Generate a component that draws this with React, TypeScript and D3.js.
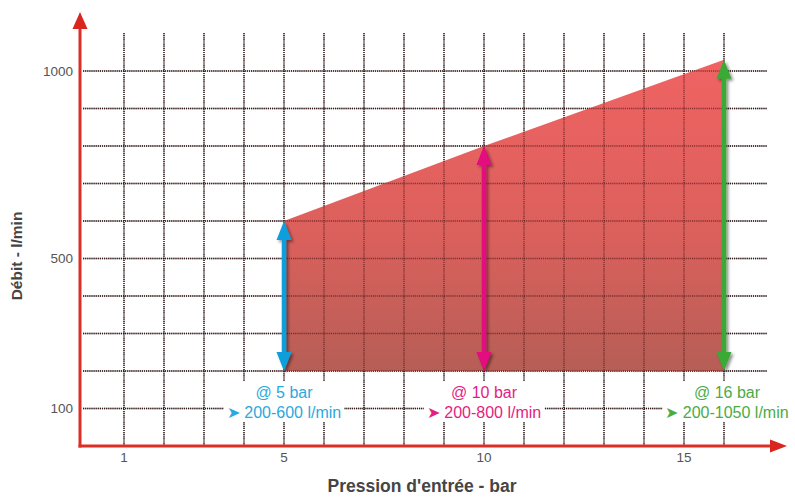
import React from "react";
import * as d3 from "d3";

const pressures = [5, 10, 16];
const flowMin = [200, 200, 200];
const flowMax = [600, 800, 1030];
const labelTop = ["@ 5 bar", "@ 10 bar", "@ 16 bar"];
const labelRange = ["200-600 l/min", "200-800 l/min", "200-1050 l/min"];
const arrowColors = ["#0d9edb", "#e4077f", "#3aa935"];
const textColors = ["#2ba8e0", "#e51c83", "#4cab43"];
const xTickValues = [1, 5, 10, 15];
const yTickValues = [100, 500, 1000];
const xGridValues = d3.range(1, 17);
const yGridValues = d3.range(100, 1001, 100);

const W = 795;
const H = 497;

function measure(text: string, font: string): number {
  if (typeof document === "undefined") return text.length * 8;
  const c = document.createElement("canvas").getContext("2d");
  if (!c) return text.length * 8;
  c.font = font;
  return c.measureText(text).width;
}

export default function App() {
  const x = d3.scaleLinear().domain([0, 16]).range([84, 724]);
  const y = d3.scaleLinear().domain([100, 1000]).range([408.5, 71]);

  const axisX = 80;
  const axisY = 446;
  const gridTop = 33;
  const gridRight = 767;

  const areaPts: [number, number][] = [
    [x(pressures[0]), y(flowMin[0])],
    ...pressures.map((p, i) => [x(p), y(flowMax[i])] as [number, number]),
    [x(pressures[pressures.length - 1]), y(flowMin[flowMin.length - 1])],
  ];
  const areaPath = d3.line()(areaPts) + "Z";

  const gridLines = (color: string, opacity: number) => (
    <g stroke={color} strokeOpacity={opacity} strokeWidth={1.4} strokeDasharray="1.2 0.9">
      {xGridValues.map((v) => (
        <line key={"vx" + v} x1={x(v)} x2={x(v)} y1={gridTop} y2={axisY - 1} />
      ))}
      {yGridValues.map((v) => (
        <line key={"hy" + v} x1={axisX + 3} x2={gridRight} y1={y(v)} y2={y(v)} />
      ))}
    </g>
  );

  const fontFam = "'Liberation Sans', Arial, Helvetica, sans-serif";
  const lblSize = 16;
  const lblFont = `${lblSize}px ${fontFam}`;

  const headW = 15;
  const headL = 19;
  const shaftW = 4.5;

  return (
    <svg
      width={W}
      height={H}
      style={{ position: "absolute", left: 0, top: 0, background: "#fff" }}
      fontFamily={fontFam}
    >
      <defs>
        <linearGradient id="areaGrad" x1="0" y1="0" x2="0" y2="1">
          <stop offset="0%" stopColor="#ef6363" />
          <stop offset="55%" stopColor="#dc605c" />
          <stop offset="100%" stopColor="#b65e56" />
        </linearGradient>
        <filter id="shadow" x="-50%" y="-10%" width="200%" height="120%">
          <feDropShadow dx="2" dy="2" stdDeviation="1.5" floodColor="#000" floodOpacity="0.45" />
        </filter>
      </defs>

      {gridLines("#111", 0.9)}

      <path d={areaPath} fill="url(#areaGrad)" />

      {gridLines("#3a0a0a", 0.55)}

      {/* axes */}
      <line x1={axisX} x2={axisX} y1={axisY + 1.5} y2={26} stroke="#dd2e26" strokeWidth={3} />
      <path d={`M${axisX},12 L${axisX + 7.5},29 L${axisX - 7.5},29 Z`} fill="#d9261f" />
      <line x1={axisX - 1.5} x2={774} y1={axisY} y2={axisY} stroke="#dd2e26" strokeWidth={3} />
      <path d={`M787,${axisY} L770,${axisY - 6.5} L770,${axisY + 6.5} Z`} fill="#d9261f" />

      {/* arrows */}
      {pressures.map((p, i) => {
        const cx = x(p);
        const yb = y(flowMin[i]);
        const yt = y(flowMax[i]);
        return (
          <g key={"arr" + i} filter="url(#shadow)" fill={arrowColors[i]}>
            <rect x={cx - shaftW / 2} y={yt + headL - 1} width={shaftW} height={yb - yt - 2 * headL + 2} />
            <path d={`M${cx},${yt} L${cx + headW / 2},${yt + headL} L${cx - headW / 2},${yt + headL} Z`} />
            <path d={`M${cx},${yb} L${cx + headW / 2},${yb - headL} L${cx - headW / 2},${yb - headL} Z`} />
          </g>
        );
      })}

      {/* labels */}
      {pressures.map((p, i) => {
        const cx = x(p) + (i === 2 ? 3 : 0);
        const line2 = "➤ " + labelRange[i];
        const w1 = measure(labelTop[i], lblFont);
        const w2 = measure(line2, lblFont);
        const w = Math.max(w1, w2) + 6;
        return (
          <g key={"lbl" + i}>
            <rect x={cx - w / 2} y={381} width={w} height={41} fill="#fff" />
            <text x={cx} y={398} textAnchor="middle" fontSize={lblSize} fill={textColors[i]}>
              {labelTop[i]}
            </text>
            <text x={cx} y={418} textAnchor="middle" fontSize={lblSize} fill={textColors[i]}>
              {line2}
            </text>
          </g>
        );
      })}

      {/* tick labels */}
      {yTickValues.map((v) => (
        <text key={"yt" + v} x={73} y={y(v)} dy="0.35em" textAnchor="end" fontSize={13.5} fill="#555">
          {v}
        </text>
      ))}
      {xTickValues.map((v) => (
        <text key={"xt" + v} x={x(v)} y={462} textAnchor="middle" fontSize={13.5} fill="#555">
          {v}
        </text>
      ))}

      {/* axis titles */}
      <text
        transform={`translate(22,256) rotate(-90)`}
        textAnchor="middle"
        fontSize={15.5}
        fontWeight="bold"
        fill="#454545"
      >
        Débit - l/min
      </text>
      <text x={422} y={492} textAnchor="middle" fontSize={17.5} fontWeight="bold" fill="#454545">
        Pression d'entrée - bar
      </text>
    </svg>
  );
}
